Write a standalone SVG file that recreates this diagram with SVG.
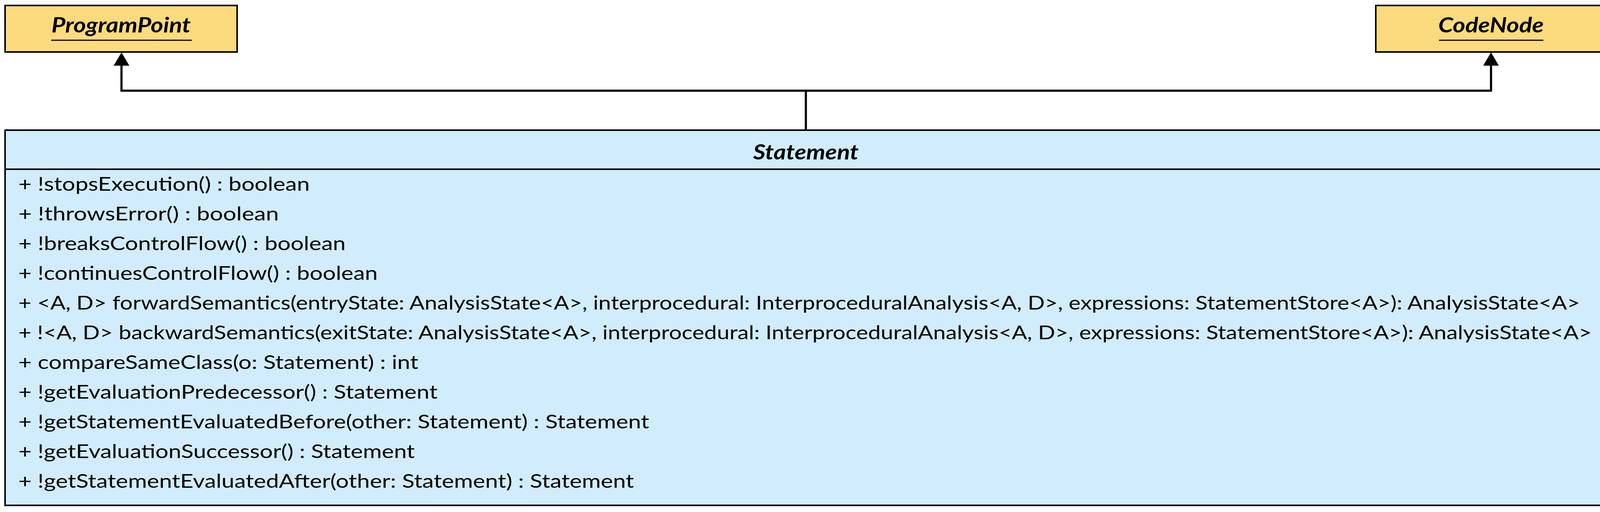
<svg xmlns="http://www.w3.org/2000/svg" width="4128" height="1310" viewBox="0 0 4128 1310">
<style>
.iface{fill:#FCDB7E;stroke:#000;stroke-width:4}
.cls{fill:#D1ECFC;stroke:#000;stroke-width:4}
.div{stroke:#000;stroke-width:4;fill:none}
.title{font-family:Lato,"Liberation Sans",sans-serif;font-weight:bold;font-style:italic;font-size:53px;fill:#000;text-anchor:middle}
.ul{stroke:#000;stroke-width:3}
.op{font-family:Lato,"Liberation Sans",sans-serif;font-size:49px;fill:#000}
.conn{stroke:#000;stroke-width:5.5;fill:none;stroke-linejoin:miter}
.head{fill:#000}
</style>
<g id="connectors">
<path class="conn" d="M2063 333 V232"/>
<path class="conn" d="M2063 232 H311 V166"/>
<path class="head" d="M311 134 L331 168 L291 168 Z"/>
<path class="conn" d="M2063 232 H3817 V166"/>
<path class="head" d="M3817 134 L3837 168 L3797 168 Z"/>
</g>
<g id="ProgramPoint">
<rect class="iface" x="13" y="14" width="594" height="119"/>
<text class="title" transform="translate(310 83) scale(1.16 1)">ProgramPoint</text>
<line class="ul" x1="131" y1="103" x2="491" y2="103"/>
</g>
<g id="CodeNode">
<rect class="iface" x="3522" y="14" width="591" height="119"/>
<text class="title" transform="translate(3817 83) scale(1.16 1)">CodeNode</text>
<line class="ul" x1="3684" y1="103" x2="3951" y2="103"/>
</g>
<g id="Statement">
<rect class="cls" x="13" y="333" width="4100" height="960"/>
<line class="div" x1="13" y1="433" x2="4113" y2="433"/>
<text class="title" transform="translate(2063 408) scale(1.16 1)">Statement</text>
<text class="op" x="47" y="488" textLength="746" lengthAdjust="spacingAndGlyphs">+ !stopsExecution() : boolean</text>
<text class="op" x="47" y="564" textLength="667" lengthAdjust="spacingAndGlyphs">+ !throwsError() : boolean</text>
<text class="op" x="47" y="640" textLength="838" lengthAdjust="spacingAndGlyphs">+ !breaksControlFlow() : boolean</text>
<text class="op" x="47" y="716" textLength="920" lengthAdjust="spacingAndGlyphs">+ !continuesControlFlow() : boolean</text>
<text class="op" x="47" y="792" textLength="3998" lengthAdjust="spacingAndGlyphs">+ &lt;A, D&gt; forwardSemantics(entryState: AnalysisState&lt;A&gt;, interprocedural: InterproceduralAnalysis&lt;A, D&gt;, expressions: StatementStore&lt;A&gt;): AnalysisState&lt;A&gt;</text>
<text class="op" x="47" y="868" textLength="4028" lengthAdjust="spacingAndGlyphs">+ !&lt;A, D&gt; backwardSemantics(exitState: AnalysisState&lt;A&gt;, interprocedural: InterproceduralAnalysis&lt;A, D&gt;, expressions: StatementStore&lt;A&gt;): AnalysisState&lt;A&gt;</text>
<text class="op" x="47" y="944" textLength="1024" lengthAdjust="spacingAndGlyphs">+ compareSameClass(o: Statement) : int</text>
<text class="op" x="47" y="1020" textLength="1073" lengthAdjust="spacingAndGlyphs">+ !getEvaluationPredecessor() : Statement</text>
<text class="op" x="47" y="1096" textLength="1615" lengthAdjust="spacingAndGlyphs">+ !getStatementEvaluatedBefore(other: Statement) : Statement</text>
<text class="op" x="47" y="1172" textLength="1015" lengthAdjust="spacingAndGlyphs">+ !getEvaluationSuccessor() : Statement</text>
<text class="op" x="47" y="1248" textLength="1576" lengthAdjust="spacingAndGlyphs">+ !getStatementEvaluatedAfter(other: Statement) : Statement</text>
</g>
</svg>
